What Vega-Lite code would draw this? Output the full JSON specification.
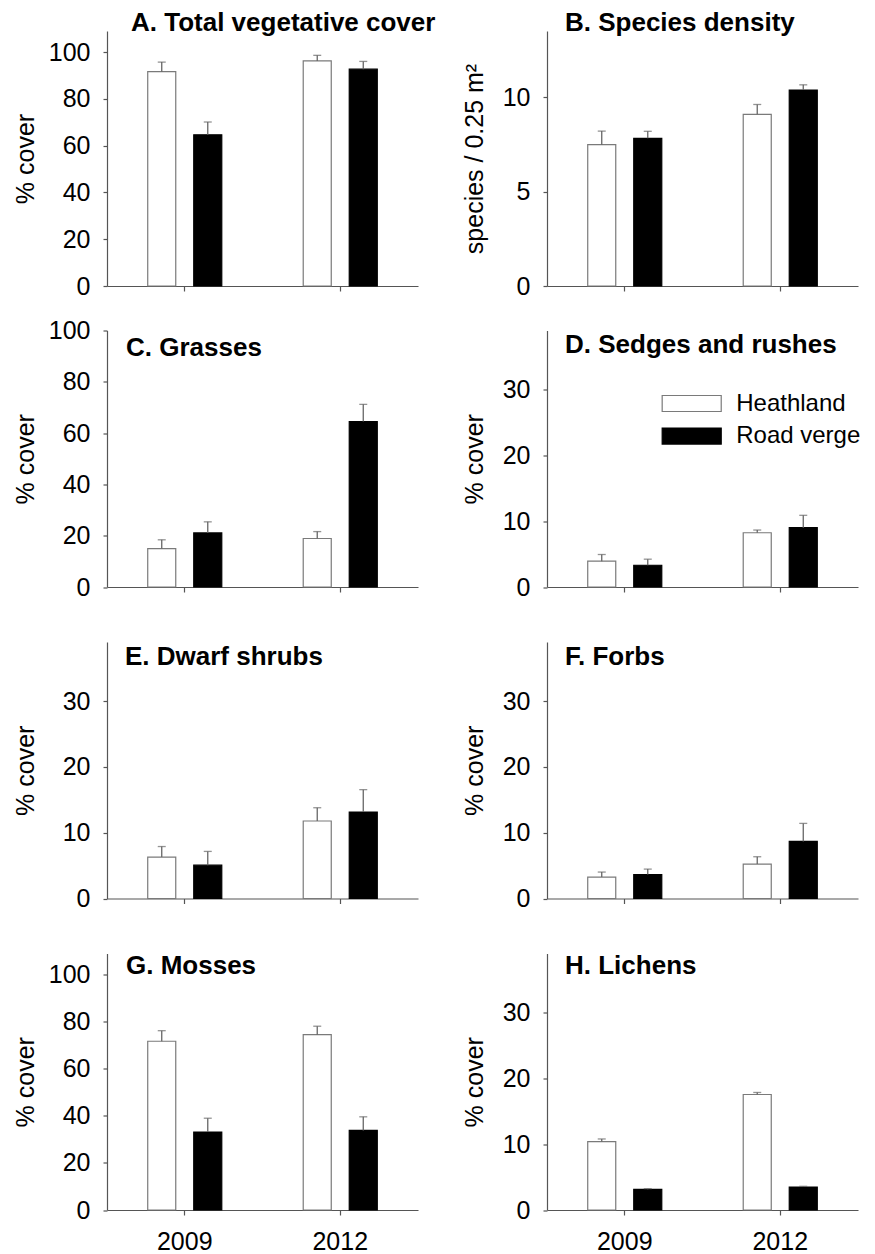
{
  "$schema": "https://vega.github.io/schema/vega-lite/v6.json",
  "padding": {"left": 13, "top": 10, "right": 5, "bottom": 5},
  "background": "white",
  "data": {"values": [
    {"panel": "A", "year": "2009", "site": "Heathland", "value": 91.6, "upper": 95.7},
    {"panel": "A", "year": "2009", "site": "Road verge", "value": 64.6, "upper": 70.1},
    {"panel": "A", "year": "2012", "site": "Heathland", "value": 96.2, "upper": 98.6},
    {"panel": "A", "year": "2012", "site": "Road verge", "value": 92.7, "upper": 96.0},
    {"panel": "B", "year": "2009", "site": "Heathland", "value": 7.48, "upper": 8.2},
    {"panel": "B", "year": "2009", "site": "Road verge", "value": 7.82, "upper": 8.19},
    {"panel": "B", "year": "2012", "site": "Heathland", "value": 9.09, "upper": 9.61},
    {"panel": "B", "year": "2012", "site": "Road verge", "value": 10.37, "upper": 10.65},
    {"panel": "C", "year": "2009", "site": "Heathland", "value": 15.0, "upper": 18.4},
    {"panel": "C", "year": "2009", "site": "Road verge", "value": 21.1, "upper": 25.4},
    {"panel": "C", "year": "2012", "site": "Heathland", "value": 18.9, "upper": 21.6},
    {"panel": "C", "year": "2012", "site": "Road verge", "value": 64.5, "upper": 71.2},
    {"panel": "D", "year": "2009", "site": "Heathland", "value": 3.92, "upper": 4.94},
    {"panel": "D", "year": "2009", "site": "Road verge", "value": 3.31, "upper": 4.23},
    {"panel": "D", "year": "2012", "site": "Heathland", "value": 8.25, "upper": 8.66},
    {"panel": "D", "year": "2012", "site": "Road verge", "value": 9.02, "upper": 10.9},
    {"panel": "E", "year": "2009", "site": "Heathland", "value": 6.3, "upper": 7.9},
    {"panel": "E", "year": "2009", "site": "Road verge", "value": 5.07, "upper": 7.16},
    {"panel": "E", "year": "2012", "site": "Heathland", "value": 11.78, "upper": 13.8},
    {"panel": "E", "year": "2012", "site": "Road verge", "value": 13.15, "upper": 16.55},
    {"panel": "F", "year": "2009", "site": "Heathland", "value": 3.26, "upper": 4.02},
    {"panel": "F", "year": "2009", "site": "Road verge", "value": 3.65, "upper": 4.47},
    {"panel": "F", "year": "2012", "site": "Heathland", "value": 5.24, "upper": 6.35},
    {"panel": "F", "year": "2012", "site": "Road verge", "value": 8.68, "upper": 11.42},
    {"panel": "G", "year": "2009", "site": "Heathland", "value": 71.7, "upper": 76.2},
    {"panel": "G", "year": "2009", "site": "Road verge", "value": 33.1, "upper": 39.0},
    {"panel": "G", "year": "2012", "site": "Heathland", "value": 74.5, "upper": 78.1},
    {"panel": "G", "year": "2012", "site": "Road verge", "value": 33.8, "upper": 39.6},
    {"panel": "H", "year": "2009", "site": "Heathland", "value": 10.4, "upper": 10.8},
    {"panel": "H", "year": "2009", "site": "Road verge", "value": 3.15, "upper": 3.25},
    {"panel": "H", "year": "2012", "site": "Heathland", "value": 17.56, "upper": 17.87},
    {"panel": "H", "year": "2012", "site": "Road verge", "value": 3.5, "upper": 3.6}
  ]},
  "columns": 2,
  "bounds": "flush",
  "align": "each",
  "spacing": {"row": 44.5, "column": 129},
  "resolve": {"scale": {"fill": "independent", "stroke": "independent", "xOffset": "independent"}},
  "concat": [
    {
      "width": 311, "height": 255,
      "title": {"text": "A. Total vegetative cover", "anchor": "start", "frame": "group", "offset": -26, "dx": 24, "baseline": "alphabetic"},
      "transform": [{"filter": {"field": "panel", "equal": "A"}}],
      "encoding": {
        "x": {"field": "year", "type": "nominal", "scale": {"paddingInner": 0, "paddingOuter": 0}, "axis": {"labels": false}},
        "xOffset": {"field": "site", "type": "nominal", "scale": {"paddingInner": 0.391, "paddingOuter": 0.885}}
      },
      "layer": [
        {"mark": {"type": "bar", "strokeWidth": 1.2},
         "encoding": {
           "y": {"field": "value", "type": "quantitative", "title": "% cover", "scale": {"domain": [0, 109], "nice": false}, "axis": {"values": [0, 20, 40, 60, 80, 100], "minExtent": 59, "maxExtent": 59, "titlePadding": 10}},
           "fill": {"field": "site", "type": "nominal", "scale": {"domain": ["Heathland", "Road verge"], "range": ["#ffffff", "#000000"]}, "legend": null},
           "stroke": {"field": "site", "type": "nominal", "scale": {"domain": ["Heathland", "Road verge"], "range": ["#7a7a7a", "#000000"]}, "legend": null}
         }},
        {"mark": {"type": "rule", "color": "#666666", "strokeWidth": 1.3},
         "encoding": {"y": {"field": "value", "type": "quantitative", "title": "% cover"}, "y2": {"field": "upper"}}},
        {"mark": {"type": "tick", "color": "#666666", "thickness": 1.3, "size": 8},
         "encoding": {"y": {"field": "upper", "type": "quantitative", "title": "% cover"}}}
      ]
    },
    {
      "width": 311, "height": 255,
      "title": {"text": "B. Species density", "anchor": "start", "frame": "group", "offset": -26, "dx": 18, "baseline": "alphabetic"},
      "transform": [{"filter": {"field": "panel", "equal": "B"}}],
      "encoding": {
        "x": {"field": "year", "type": "nominal", "scale": {"paddingInner": 0, "paddingOuter": 0}, "axis": {"labels": false}},
        "xOffset": {"field": "site", "type": "nominal", "scale": {"paddingInner": 0.391, "paddingOuter": 0.885}}
      },
      "layer": [
        {"mark": {"type": "bar", "strokeWidth": 1.2},
         "encoding": {
           "y": {"field": "value", "type": "quantitative", "title": "species / 0.25 m²", "scale": {"domain": [0, 13.5], "nice": false}, "axis": {"values": [0, 5, 10], "minExtent": 45, "maxExtent": 45, "titlePadding": 15}},
           "fill": {"field": "site", "type": "nominal", "scale": {"domain": ["Heathland", "Road verge"], "range": ["#ffffff", "#000000"]}, "legend": null},
           "stroke": {"field": "site", "type": "nominal", "scale": {"domain": ["Heathland", "Road verge"], "range": ["#7a7a7a", "#000000"]}, "legend": null}
         }},
        {"mark": {"type": "rule", "color": "#666666", "strokeWidth": 1.3},
         "encoding": {"y": {"field": "value", "type": "quantitative", "title": "species / 0.25 m²"}, "y2": {"field": "upper"}}},
        {"mark": {"type": "tick", "color": "#666666", "thickness": 1.3, "size": 8},
         "encoding": {"y": {"field": "upper", "type": "quantitative", "title": "species / 0.25 m²"}}}
      ]
    },
    {
      "width": 311, "height": 256.5,
      "title": {"text": "C. Grasses", "anchor": "start", "frame": "group", "offset": -63, "dx": 19, "baseline": "alphabetic"},
      "transform": [{"filter": {"field": "panel", "equal": "C"}}],
      "encoding": {
        "x": {"field": "year", "type": "nominal", "scale": {"paddingInner": 0, "paddingOuter": 0}, "axis": {"labels": false}},
        "xOffset": {"field": "site", "type": "nominal", "scale": {"paddingInner": 0.391, "paddingOuter": 0.885}}
      },
      "layer": [
        {"mark": {"type": "bar", "strokeWidth": 1.2},
         "encoding": {
           "y": {"field": "value", "type": "quantitative", "title": "% cover", "scale": {"domain": [0, 100], "nice": false}, "axis": {"values": [0, 20, 40, 60, 80, 100], "minExtent": 59, "maxExtent": 59, "titlePadding": 10}},
           "fill": {"field": "site", "type": "nominal", "scale": {"domain": ["Heathland", "Road verge"], "range": ["#ffffff", "#000000"]}, "legend": null},
           "stroke": {"field": "site", "type": "nominal", "scale": {"domain": ["Heathland", "Road verge"], "range": ["#7a7a7a", "#000000"]}, "legend": null}
         }},
        {"mark": {"type": "rule", "color": "#666666", "strokeWidth": 1.3},
         "encoding": {"y": {"field": "value", "type": "quantitative", "title": "% cover"}, "y2": {"field": "upper"}}},
        {"mark": {"type": "tick", "color": "#666666", "thickness": 1.3, "size": 8},
         "encoding": {"y": {"field": "upper", "type": "quantitative", "title": "% cover"}}}
      ]
    },
    {
      "width": 311, "height": 256.5,
      "title": {"text": "D. Sedges and rushes", "anchor": "start", "frame": "group", "offset": -48.8, "dx": 18, "baseline": "alphabetic"},
      "transform": [{"filter": {"field": "panel", "equal": "D"}}],
      "encoding": {
        "x": {"field": "year", "type": "nominal", "scale": {"paddingInner": 0, "paddingOuter": 0}, "axis": {"labels": false}},
        "xOffset": {"field": "site", "type": "nominal", "scale": {"paddingInner": 0.391, "paddingOuter": 0.885}}
      },
      "layer": [
        {"mark": {"type": "bar", "strokeWidth": 1.2},
         "encoding": {
           "y": {"field": "value", "type": "quantitative", "title": "% cover", "scale": {"domain": [0, 39], "nice": false}, "axis": {"values": [0, 10, 20, 30], "minExtent": 45, "maxExtent": 45, "titlePadding": 15}},
           "fill": {"field": "site", "type": "nominal", "scale": {"domain": ["Heathland", "Road verge"], "range": ["#ffffff", "#000000"]},
             "legend": {"orient": "none", "legendX": 132.7, "legendY": 61, "title": null, "padding": 0, "symbolType": "M-3.69,-1H3.69V1H-3.69Z", "symbolSize": 256, "symbolStrokeWidth": 1.2, "labelFontSize": 24, "labelColor": "black", "labelOffset": 32.5, "rowPadding": 8.6}},
           "stroke": {"field": "site", "type": "nominal", "scale": {"domain": ["Heathland", "Road verge"], "range": ["#7a7a7a", "#000000"]},
             "legend": {"orient": "none", "legendX": 132.7, "legendY": 61, "title": null, "padding": 0, "symbolType": "M-3.69,-1H3.69V1H-3.69Z", "symbolSize": 256, "symbolStrokeWidth": 1.2, "labelFontSize": 24, "labelColor": "black", "labelOffset": 32.5, "rowPadding": 8.6}}
         }},
        {"mark": {"type": "rule", "color": "#666666", "strokeWidth": 1.3},
         "encoding": {"y": {"field": "value", "type": "quantitative", "title": "% cover"}, "y2": {"field": "upper"}}},
        {"mark": {"type": "tick", "color": "#666666", "thickness": 1.3, "size": 8},
         "encoding": {"y": {"field": "upper", "type": "quantitative", "title": "% cover"}}}
      ]
    },
    {
      "width": 311, "height": 266.5,
      "title": {"text": "E. Dwarf shrubs", "anchor": "start", "frame": "group", "offset": -58.5, "dx": 18, "baseline": "alphabetic"},
      "transform": [{"filter": {"field": "panel", "equal": "E"}}],
      "encoding": {
        "x": {"field": "year", "type": "nominal", "scale": {"paddingInner": 0, "paddingOuter": 0}, "axis": {"labels": false}},
        "xOffset": {"field": "site", "type": "nominal", "scale": {"paddingInner": 0.391, "paddingOuter": 0.885}}
      },
      "layer": [
        {"mark": {"type": "bar", "strokeWidth": 1.2},
         "encoding": {
           "y": {"field": "value", "type": "quantitative", "title": "% cover", "scale": {"domain": [0, 39], "nice": false, "range": [266.5, 10]}, "axis": {"values": [0, 10, 20, 30], "minExtent": 59, "maxExtent": 59, "titlePadding": 10}},
           "fill": {"field": "site", "type": "nominal", "scale": {"domain": ["Heathland", "Road verge"], "range": ["#ffffff", "#000000"]}, "legend": null},
           "stroke": {"field": "site", "type": "nominal", "scale": {"domain": ["Heathland", "Road verge"], "range": ["#7a7a7a", "#000000"]}, "legend": null}
         }},
        {"mark": {"type": "rule", "color": "#666666", "strokeWidth": 1.3},
         "encoding": {"y": {"field": "value", "type": "quantitative", "title": "% cover"}, "y2": {"field": "upper"}}},
        {"mark": {"type": "tick", "color": "#666666", "thickness": 1.3, "size": 8},
         "encoding": {"y": {"field": "upper", "type": "quantitative", "title": "% cover"}}}
      ]
    },
    {
      "width": 311, "height": 266.5,
      "title": {"text": "F. Forbs", "anchor": "start", "frame": "group", "offset": -58.5, "dx": 18, "baseline": "alphabetic"},
      "transform": [{"filter": {"field": "panel", "equal": "F"}}],
      "encoding": {
        "x": {"field": "year", "type": "nominal", "scale": {"paddingInner": 0, "paddingOuter": 0}, "axis": {"labels": false}},
        "xOffset": {"field": "site", "type": "nominal", "scale": {"paddingInner": 0.391, "paddingOuter": 0.885}}
      },
      "layer": [
        {"mark": {"type": "bar", "strokeWidth": 1.2},
         "encoding": {
           "y": {"field": "value", "type": "quantitative", "title": "% cover", "scale": {"domain": [0, 39], "nice": false, "range": [266.5, 10]}, "axis": {"values": [0, 10, 20, 30], "minExtent": 45, "maxExtent": 45, "titlePadding": 15}},
           "fill": {"field": "site", "type": "nominal", "scale": {"domain": ["Heathland", "Road verge"], "range": ["#ffffff", "#000000"]}, "legend": null},
           "stroke": {"field": "site", "type": "nominal", "scale": {"domain": ["Heathland", "Road verge"], "range": ["#7a7a7a", "#000000"]}, "legend": null}
         }},
        {"mark": {"type": "rule", "color": "#666666", "strokeWidth": 1.3},
         "encoding": {"y": {"field": "value", "type": "quantitative", "title": "% cover"}, "y2": {"field": "upper"}}},
        {"mark": {"type": "tick", "color": "#666666", "thickness": 1.3, "size": 8},
         "encoding": {"y": {"field": "upper", "type": "quantitative", "title": "% cover"}}}
      ]
    },
    {
      "width": 311, "height": 266.5,
      "title": {"text": "G. Mosses", "anchor": "start", "frame": "group", "offset": -56.8, "dx": 19, "baseline": "alphabetic"},
      "transform": [{"filter": {"field": "panel", "equal": "G"}}],
      "encoding": {
        "x": {"field": "year", "type": "nominal", "scale": {"paddingInner": 0, "paddingOuter": 0}, "axis": {"labels": true}},
        "xOffset": {"field": "site", "type": "nominal", "scale": {"paddingInner": 0.391, "paddingOuter": 0.885}}
      },
      "layer": [
        {"mark": {"type": "bar", "strokeWidth": 1.2},
         "encoding": {
           "y": {"field": "value", "type": "quantitative", "title": "% cover", "scale": {"domain": [0, 109], "nice": false, "range": [266.5, 10]}, "axis": {"values": [0, 20, 40, 60, 80, 100], "minExtent": 59, "maxExtent": 59, "titlePadding": 10}},
           "fill": {"field": "site", "type": "nominal", "scale": {"domain": ["Heathland", "Road verge"], "range": ["#ffffff", "#000000"]}, "legend": null},
           "stroke": {"field": "site", "type": "nominal", "scale": {"domain": ["Heathland", "Road verge"], "range": ["#7a7a7a", "#000000"]}, "legend": null}
         }},
        {"mark": {"type": "rule", "color": "#666666", "strokeWidth": 1.3},
         "encoding": {"y": {"field": "value", "type": "quantitative", "title": "% cover"}, "y2": {"field": "upper"}}},
        {"mark": {"type": "tick", "color": "#666666", "thickness": 1.3, "size": 8},
         "encoding": {"y": {"field": "upper", "type": "quantitative", "title": "% cover"}}}
      ]
    },
    {
      "width": 311, "height": 266.5,
      "title": {"text": "H. Lichens", "anchor": "start", "frame": "group", "offset": -56.2, "dx": 18, "baseline": "alphabetic"},
      "transform": [{"filter": {"field": "panel", "equal": "H"}}],
      "encoding": {
        "x": {"field": "year", "type": "nominal", "scale": {"paddingInner": 0, "paddingOuter": 0}, "axis": {"labels": true}},
        "xOffset": {"field": "site", "type": "nominal", "scale": {"paddingInner": 0.391, "paddingOuter": 0.885}}
      },
      "layer": [
        {"mark": {"type": "bar", "strokeWidth": 1.2},
         "encoding": {
           "y": {"field": "value", "type": "quantitative", "title": "% cover", "scale": {"domain": [0, 39], "nice": false, "range": [266.5, 10]}, "axis": {"values": [0, 10, 20, 30], "minExtent": 45, "maxExtent": 45, "titlePadding": 15}},
           "fill": {"field": "site", "type": "nominal", "scale": {"domain": ["Heathland", "Road verge"], "range": ["#ffffff", "#000000"]}, "legend": null},
           "stroke": {"field": "site", "type": "nominal", "scale": {"domain": ["Heathland", "Road verge"], "range": ["#7a7a7a", "#000000"]}, "legend": null}
         }},
        {"mark": {"type": "rule", "color": "#666666", "strokeWidth": 1.3},
         "encoding": {"y": {"field": "value", "type": "quantitative", "title": "% cover"}, "y2": {"field": "upper"}}},
        {"mark": {"type": "tick", "color": "#666666", "thickness": 1.3, "size": 8},
         "encoding": {"y": {"field": "upper", "type": "quantitative", "title": "% cover"}}}
      ]
    }
  ],
  "config": {
    "font": "Liberation Sans",
    "view": {"stroke": null},
    "title": {"fontSize": 26, "fontWeight": "bold", "color": "black", "font": "Liberation Sans"},
    "axis": {"domainColor": "#555555", "tickColor": "#555555", "domainWidth": 1.2, "tickWidth": 1.2, "labelColor": "black", "titleColor": "black", "labelFontSize": 25, "titleFontSize": 25, "titleFontWeight": "normal", "grid": false, "labelFont": "Liberation Sans", "titleFont": "Liberation Sans"},
    "axisY": {"tickSize": 4, "labelPadding": 13},
    "axisX": {"tickSize": 5, "labelPadding": 14, "labelAngle": 0, "title": null},
    "legend": {"labelFont": "Liberation Sans"}
  }
}
